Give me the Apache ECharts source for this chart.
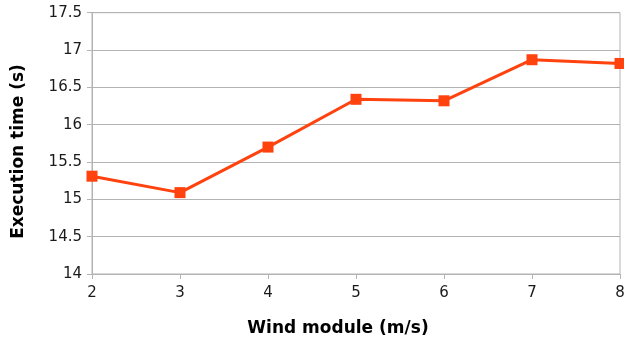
<!DOCTYPE html>
<html>
<head>
<meta charset="utf-8">
<script src="https://cdn.jsdelivr.net/npm/echarts@6/dist/echarts.min.js"></script>
<style>
  html, body { margin: 0; padding: 0; background: #fff; }
  #chart { width: 624px; height: 344px; }
</style>
</head>
<body>
<div id="chart"></div>
<script>
// Wind module (m/s) against measured execution time (s)
const windModule = [2, 3, 4, 5, 6, 7, 8];
const executionTime = [15.31, 15.09, 15.70, 16.34, 16.32, 16.87, 16.82];

const xTitle = 'Wind module (m/s)';
const yTitle = 'Execution time (s)';

const chart = echarts.init(document.getElementById('chart'), null, { renderer: 'canvas' });

const gridColor = '#b3b3b3';
const font = '"DejaVu Sans", Verdana, sans-serif';

chart.setOption({
  animation: false,
  backgroundColor: '#ffffff',
  grid: {
    left: 92, right: 4, top: 12.7, bottom: 70,
    containLabel: false,
    outerBoundsMode: 'none',
    show: true, borderColor: gridColor, borderWidth: 1, backgroundColor: 'transparent'
  },
  xAxis: {
    type: 'value',
    min: 2, max: 8, interval: 1,
    axisLine: { show: true, lineStyle: { color: gridColor, width: 1 } },
    axisTick: { show: true, length: 5, lineStyle: { color: gridColor } },
    splitLine: { show: false },
    axisLabel: { color: '#1a1a1a', fontSize: 15, fontFamily: font, margin: 12 }
  },
  yAxis: {
    type: 'value',
    min: 14, max: 17.5, interval: 0.5,
    axisLine: { show: true, lineStyle: { color: gridColor, width: 1 } },
    axisTick: { show: true, length: 5, lineStyle: { color: gridColor } },
    splitLine: { show: true, lineStyle: { color: gridColor, width: 1 } },
    axisLabel: { color: '#1a1a1a', fontSize: 15, fontFamily: font, margin: 10 }
  },
  graphic: [
    {
      type: 'text',
      x: 338, y: 329,
      style: {
        text: xTitle, fill: '#000', font: 'bold 17px ' + font,
        textAlign: 'center', textVerticalAlign: 'middle'
      }
    },
    {
      type: 'text',
      x: 19, y: 151.5, rotation: Math.PI / 2,
      style: {
        text: yTitle, fill: '#000', font: 'bold 17px ' + font,
        textAlign: 'center', textVerticalAlign: 'middle'
      }
    }
  ],
  series: [{
    type: 'line',
    data: windModule.map((w, i) => [w, executionTime[i]]),
    symbol: 'rect',
    symbolSize: 11,
    lineStyle: { color: '#ff420e', width: 3 },
    itemStyle: { color: '#ff420e' },
    clip: false
  }]
});
</script>
</body>
</html>
